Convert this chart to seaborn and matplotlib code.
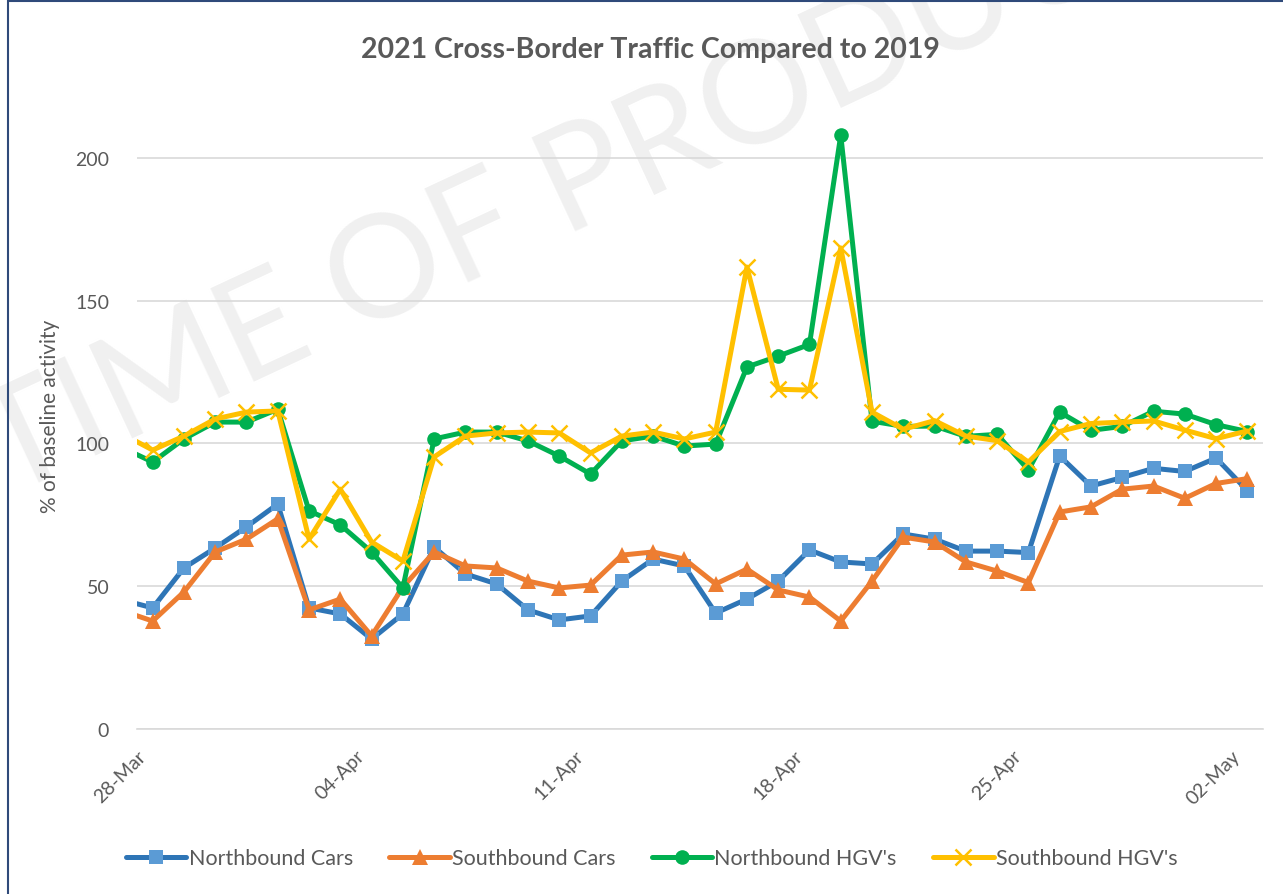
import pandas as pd
import seaborn as sns
import matplotlib.pyplot as plt
import matplotlib.dates as mdates
from matplotlib.patches import Rectangle

# daily values, 27-Mar (clipped at the left edge) to 02-May 2021
days = pd.date_range('2021-03-27', '2021-05-02', freq='D')
nb_cars = [45.3, 42.4, 56.4, 63.4, 70.8, 78.8, 42.4, 40.3, 31.5, 40.3,
           63.7, 54.3, 50.8, 41.7, 38.2, 39.6, 51.8, 59.5, 57.1, 40.6,
           45.5, 51.8, 62.7, 58.5, 57.8, 68.3, 66.5, 62.3, 62.3, 61.8,
           95.6, 85.1, 88.1, 91.3, 90.2, 94.9, 83.5]
sb_cars = [41.5, 37.8, 48.0, 62.0, 66.5, 73.6, 41.7, 45.5, 32.6, 49.7,
           62.0, 57.1, 56.4, 51.8, 49.4, 50.4, 60.9, 62.0, 59.5, 50.8,
           56.0, 48.7, 46.2, 37.8, 51.8, 67.2, 65.5, 58.5, 55.3, 51.3,
           76.0, 77.8, 84.0, 85.1, 80.8, 86.0, 87.7]
nb_hgv = [98.7, 93.5, 101.6, 107.5, 107.5, 112.0, 76.4, 71.5, 62.0, 49.4,
          101.6, 104.0, 104.0, 100.9, 95.6, 89.3, 100.9, 102.6, 99.1, 99.8,
          126.8, 130.6, 134.7, 208.0, 107.8, 106.0, 106.1, 102.5, 103.2, 90.7,
          111.0, 104.6, 106.0, 111.3, 110.3, 106.6, 104.2]
sb_hgv = [103.5, 97.7, 102.6, 108.6, 111.0, 111.4, 66.5, 84.0, 65.5, 58.8,
          95.3, 102.6, 103.7, 104.0, 103.7, 96.7, 102.6, 104.0, 101.6, 104.0,
          161.8, 119.0, 118.7, 168.5, 111.0, 105.0, 108.0, 102.6, 101.0, 93.5,
          104.2, 107.0, 107.5, 107.9, 104.7, 101.7, 104.4]
series_names = ["Northbound Cars", "Southbound Cars", "Northbound HGV's", "Southbound HGV's"]
tick_days = pd.date_range('2021-03-28', '2021-05-02', freq='7D')
y_ticks = [0, 50, 100, 150, 200]

sns.set_style('white')
plt.rcParams['font.family'] = ['Lato', 'DejaVu Sans']
grey = '#595959'

fig = plt.figure(figsize=(12.83, 8.95), dpi=100)
ax = fig.add_axes([0.1068, 0.1844, 0.8776, 0.7017])
ax.patch.set_alpha(0)

# watermark behind everything
fig.text(0.005, 0.445, 'TIME OF PRODUCTION', rotation=25, rotation_mode='anchor',
         fontsize=104, color='#F0F0F0', ha='left', va='baseline', zorder=-5)

# points sit in the middle of each day slot (Excel date axis style)
x = days + pd.Timedelta(hours=12)
styles = [
    (nb_cars, '#2E75B6', 's', '#5B9BD5', 10.5, 0),
    (sb_cars, '#ED7D31', '^', '#ED7D31', 11, 0),
    (nb_hgv, '#00B050', 'o', '#00B050', 10.5, 0),
    (sb_hgv, '#FFC000', 'x', '#FFC000', 11, 1.8),
]
for name, (vals, col, mk, mfc, ms, mew) in zip(series_names, styles):
    sns.lineplot(x=x, y=vals, ax=ax, color=col, marker=mk, markersize=ms,
                 markerfacecolor=mfc, markeredgecolor=mfc, markeredgewidth=mew,
                 linewidth=3.6, label=name)

ax.set_xlim(pd.Timestamp('2021-03-28'), pd.Timestamp('2021-05-03'))
ax.set_xticks(tick_days)
ax.xaxis.set_major_formatter(mdates.DateFormatter('%d-%b'))
ax.set_ylim(0, 220)
ax.set_yticks(y_ticks)
ax.yaxis.grid(True, color='#D9D9D9', linewidth=1.2)
ax.set_axisbelow(True)
for s in ['top', 'right', 'left']:
    ax.spines[s].set_visible(False)
ax.spines['bottom'].set_color('#D9D9D9')
ax.spines['bottom'].set_linewidth(1.2)
ax.tick_params(axis='x', direction='out', length=7, width=1.2, color='#D9D9D9',
               labelsize=14, labelcolor=grey, pad=6)
ax.tick_params(axis='y', length=0, labelsize=14, labelcolor=grey, pad=20)
plt.setp(ax.get_xticklabels(), rotation=45, ha='right', rotation_mode='anchor')
ax.set_xlabel('')
ax.set_ylabel('% of baseline activity', fontsize=15, color=grey)
ax.yaxis.set_label_coords(-0.068, 0.5)

fig.text(0.507, 0.944, '2021 Cross-Border Traffic Compared to 2019', ha='center',
         va='center', fontsize=20.5, fontweight='bold', color=grey)

handles, labels = ax.get_legend_handles_labels()
ax.legend_.remove()
fig.legend(handles, labels, loc='center', bbox_to_anchor=(0.508, 0.04), ncol=4,
           frameon=False, fontsize=15.5, labelcolor=grey, handlelength=2.8,
           handletextpad=0.1, columnspacing=1.7)

# chart border
fig.patches.append(Rectangle((8 / 1283, -0.01), 1.0, 1.008, transform=fig.transFigure,
                             fill=False, edgecolor='#2F4A7A', linewidth=1.5))

fig.savefig('out.png', dpi=100)
